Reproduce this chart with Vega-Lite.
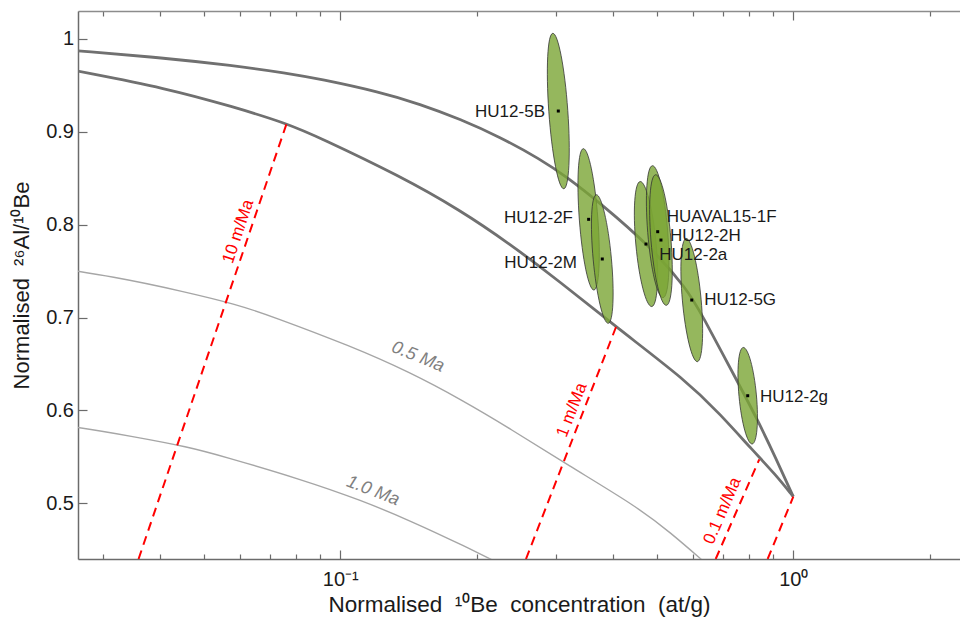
{
  "$schema": "https://vega.github.io/schema/vega-lite/v6.json",
  "width": 882,
  "height": 548,
  "autosize": {"type": "none"},
  "padding": {"left": 78, "top": 11, "right": 0, "bottom": 58},
  "config": {"view": {"stroke": null}, "font": "Liberation Sans"},
  "datasets": {
    "curves": [
      {"series": "constant exposure", "kind": "model", "x": 0.02627, "y": 0.98719},
      {"series": "constant exposure", "kind": "model", "x": 0.03999, "y": 0.97987},
      {"series": "constant exposure", "kind": "model", "x": 0.05797, "y": 0.97126},
      {"series": "constant exposure", "kind": "model", "x": 0.07627, "y": 0.96319},
      {"series": "constant exposure", "kind": "model", "x": 0.0902, "y": 0.95673},
      {"series": "constant exposure", "kind": "model", "x": 0.12237, "y": 0.94274},
      {"series": "constant exposure", "kind": "model", "x": 0.14995, "y": 0.92982},
      {"series": "constant exposure", "kind": "model", "x": 0.18376, "y": 0.91367},
      {"series": "constant exposure", "kind": "model", "x": 0.22522, "y": 0.8943},
      {"series": "constant exposure", "kind": "model", "x": 0.27601, "y": 0.87061},
      {"series": "constant exposure", "kind": "model", "x": 0.31654, "y": 0.85124},
      {"series": "constant exposure", "kind": "model", "x": 0.37443, "y": 0.82325},
      {"series": "constant exposure", "kind": "model", "x": 0.48274, "y": 0.77697},
      {"series": "constant exposure", "kind": "model", "x": 0.58263, "y": 0.73068},
      {"series": "constant exposure", "kind": "model", "x": 0.62748, "y": 0.70377},
      {"series": "constant exposure", "kind": "model", "x": 0.75618, "y": 0.62917},
      {"series": "constant exposure", "kind": "model", "x": 0.83002, "y": 0.59182},
      {"series": "constant exposure", "kind": "model", "x": 0.91914, "y": 0.54661},
      {"series": "constant exposure", "kind": "model", "x": 1.0, "y": 0.5071},
      {"series": "steady erosion", "kind": "model", "x": 0.02627, "y": 0.96534},
      {"series": "steady erosion", "kind": "model", "x": 0.04139, "y": 0.94672},
      {"series": "steady erosion", "kind": "model", "x": 0.05797, "y": 0.92691},
      {"series": "steady erosion", "kind": "model", "x": 0.07616, "y": 0.90904},
      {"series": "steady erosion", "kind": "model", "x": 0.0902, "y": 0.89354},
      {"series": "steady erosion", "kind": "model", "x": 0.13545, "y": 0.85231},
      {"series": "steady erosion", "kind": "model", "x": 0.18376, "y": 0.81572},
      {"series": "steady erosion", "kind": "model", "x": 0.23696, "y": 0.77912},
      {"series": "steady erosion", "kind": "model", "x": 0.30548, "y": 0.73853},
      {"series": "steady erosion", "kind": "model", "x": 0.40614, "y": 0.68978},
      {"series": "steady erosion", "kind": "model", "x": 0.58174, "y": 0.63165},
      {"series": "steady erosion", "kind": "model", "x": 0.68892, "y": 0.59612},
      {"series": "steady erosion", "kind": "model", "x": 0.8161, "y": 0.5563},
      {"series": "steady erosion", "kind": "model", "x": 0.91112, "y": 0.53154},
      {"series": "steady erosion", "kind": "model", "x": 1.0, "y": 0.5071},
      {"series": "0.5 Ma", "kind": "burial", "x": 0.02046, "y": 0.7581},
      {"series": "0.5 Ma", "kind": "burial", "x": 0.03223, "y": 0.7435},
      {"series": "0.5 Ma", "kind": "burial", "x": 0.04515, "y": 0.7279},
      {"series": "0.5 Ma", "kind": "burial", "x": 0.05931, "y": 0.7139},
      {"series": "0.5 Ma", "kind": "burial", "x": 0.07025, "y": 0.7017},
      {"series": "0.5 Ma", "kind": "burial", "x": 0.10549, "y": 0.6693},
      {"series": "0.5 Ma", "kind": "burial", "x": 0.14311, "y": 0.6406},
      {"series": "0.5 Ma", "kind": "burial", "x": 0.18454, "y": 0.6118},
      {"series": "0.5 Ma", "kind": "burial", "x": 0.23791, "y": 0.58},
      {"series": "0.5 Ma", "kind": "burial", "x": 0.3163, "y": 0.5417},
      {"series": "0.5 Ma", "kind": "burial", "x": 0.45306, "y": 0.496},
      {"series": "0.5 Ma", "kind": "burial", "x": 0.53653, "y": 0.4681},
      {"series": "0.5 Ma", "kind": "burial", "x": 0.63557, "y": 0.4369},
      {"series": "1.0 Ma", "kind": "burial", "x": 0.01594, "y": 0.5953},
      {"series": "1.0 Ma", "kind": "burial", "x": 0.02512, "y": 0.5838},
      {"series": "1.0 Ma", "kind": "burial", "x": 0.03518, "y": 0.5716},
      {"series": "1.0 Ma", "kind": "burial", "x": 0.04621, "y": 0.5606},
      {"series": "1.0 Ma", "kind": "burial", "x": 0.05473, "y": 0.551},
      {"series": "1.0 Ma", "kind": "burial", "x": 0.08219, "y": 0.5256},
      {"series": "1.0 Ma", "kind": "burial", "x": 0.11151, "y": 0.5031},
      {"series": "1.0 Ma", "kind": "burial", "x": 0.14379, "y": 0.4805},
      {"series": "1.0 Ma", "kind": "burial", "x": 0.18537, "y": 0.4554},
      {"series": "1.0 Ma", "kind": "burial", "x": 0.24645, "y": 0.4254},
      {"series": "10 m/Ma", "kind": "erosion", "x": 0.07616, "y": 0.90904},
      {"series": "10 m/Ma", "kind": "erosion", "x": 0.03587, "y": 0.44},
      {"series": "1 m/Ma", "kind": "erosion", "x": 0.40614, "y": 0.68978},
      {"series": "1 m/Ma", "kind": "erosion", "x": 0.257, "y": 0.44},
      {"series": "0.1 m/Ma", "kind": "erosion", "x": 0.8413, "y": 0.54736},
      {"series": "0.1 m/Ma", "kind": "erosion", "x": 0.6741, "y": 0.44},
      {"series": "saturation", "kind": "erosion", "x": 1.0, "y": 0.5071},
      {"series": "saturation", "kind": "erosion", "x": 0.8779, "y": 0.44}
    ],
    "samples": [
      {"sample": "HU12-5B", "x": 0.30289, "y": 0.9223, "lx": 0.28305, "ly": 0.92121},
      {"sample": "HU12-2F", "x": 0.35336, "y": 0.8057, "lx": 0.32634, "ly": 0.80711},
      {"sample": "HU12-2M", "x": 0.37877, "y": 0.763, "lx": 0.33305, "ly": 0.75867},
      {"sample": "HU12-2a", "x": 0.47295, "y": 0.7791, "lx": 0.50601, "ly": 0.76728},
      {"sample": "HUAVAL15-1F", "x": 0.50199, "y": 0.7924, "lx": 0.52543, "ly": 0.80818},
      {"sample": "HU12-2H", "x": 0.51038, "y": 0.7834, "lx": 0.53432, "ly": 0.78773},
      {"sample": "HU12-5G", "x": 0.59688, "y": 0.7188, "lx": 0.63607, "ly": 0.71884},
      {"sample": "HU12-2g", "x": 0.79324, "y": 0.6158, "lx": 0.84439, "ly": 0.61475}
    ]
  },
  "encoding": {
    "x": {"field": "x", "type": "quantitative", "scale": {"type": "log", "domain": [0.026366, 2.3335], "nice": false}, "axis": null},
    "y": {"field": "y", "type": "quantitative", "scale": {"domain": [0.44, 1.03], "nice": false, "zero": false}, "axis": null}
  },
  "layer": [
    {
      "data": {"name": "curves"},
      "transform": [{"filter": "datum.kind == 'burial'"}],
      "mark": {"type": "line", "color": "#a6a6a6", "strokeWidth": 1.4, "clip": true, "interpolate": "basis"},
      "encoding": {
        "detail": {"field": "series"},
        "x": {"field": "x", "type": "quantitative", "scale": {"type": "log", "domain": [0.026366, 2.3335], "nice": false},
          "axis": {"orient": "bottom", "values": [0.03, 0.04, 0.05, 0.06, 0.07, 0.08, 0.09, 0.1, 0.2, 0.3, 0.4, 0.5, 0.6, 0.7, 0.8, 0.9, 1, 2],
            "labelExpr": "datum.value == 0.1 ? '10⁻¹' : (datum.value == 1 ? '10⁰' : '')",
            "tickSize": {"condition": {"test": "datum.value == 0.1 || datum.value == 1", "value": -9}, "value": -5},
            "labelPadding": 19, "labelFontSize": 20, "labelFont": "Liberation Sans", "labelColor": "#1a1a1a",
            "labelFlush": false, "labelOverlap": false, "labelBound": false,
            "domainColor": "#6b6b6b", "domainWidth": 1.5, "tickColor": "#6b6b6b", "tickWidth": 1.2, "grid": false,
            "title": "Normalised\u00a0 ¹⁰Be\u00a0 concentration\u00a0 (at/g)", "titleFontSize": 22.5, "titleFontWeight": "normal",
            "titleFont": "Liberation Sans", "titleColor": "#1a1a1a", "titlePadding": 0}},
        "y": {"field": "y", "type": "quantitative", "scale": {"domain": [0.44, 1.03], "nice": false, "zero": false},
          "axis": {"orient": "left", "values": [0.5, 0.6, 0.7, 0.8, 0.9, 1], "format": ".1~f",
            "tickSize": -9, "labelPadding": 13.5, "labelFontSize": 20, "labelFont": "Liberation Sans", "labelColor": "#1a1a1a",
            "labelFlush": false, "labelOverlap": false,
            "domainColor": "#6b6b6b", "domainWidth": 1.5, "tickColor": "#6b6b6b", "tickWidth": 1.2, "grid": false,
            "title": "Normalised\u00a0 ²⁶Al/¹⁰Be", "titleFontSize": 22, "titleFontWeight": "normal",
            "titleFont": "Liberation Sans", "titleColor": "#1a1a1a", "titlePadding": 12}}
      }
    },
    {
      "data": {"name": "curves"},
      "transform": [{"filter": "datum.kind == 'model'"}],
      "mark": {"type": "line", "color": "#707070", "strokeWidth": 2.8, "clip": true, "interpolate": "basis"},
      "encoding": {
        "detail": {"field": "series"},
        "x": {"field": "x", "type": "quantitative", "scale": {"type": "log", "domain": [0.026366, 2.3335], "nice": false},
          "axis": {"orient": "top", "values": [0.03, 0.04, 0.05, 0.06, 0.07, 0.08, 0.09, 0.1, 0.2, 0.3, 0.4, 0.5, 0.6, 0.7, 0.8, 0.9, 1, 2],
            "labels": false, "title": null,
            "tickSize": {"condition": {"test": "datum.value == 0.1 || datum.value == 1", "value": -9}, "value": -5},
            "domainColor": "#8c8c8c", "domainWidth": 1.5, "tickColor": "#6b6b6b", "tickWidth": 1.2, "grid": false}}
      }
    },
    {
      "data": {"name": "curves"},
      "transform": [{"filter": "datum.kind == 'erosion'"}],
      "mark": {"type": "line", "color": "#ff0000", "strokeWidth": 2, "strokeDash": [9, 6], "clip": true},
      "encoding": {"detail": {"field": "series"}}
    },
    {
      "data": {"name": "samples"},
      "mark": {"type": "point", "filled": true, "size": 4, "fill": "#7aa535", "fillOpacity": 0.8, "stroke": "#333333", "strokeWidth": 0.8, "strokeOpacity": 1, "opacity": 1},
      "encoding": {
        "shape": {"field": "sample", "type": "nominal", "legend": null,
          "scale": {"domain": ["HU12-5B", "HU12-2F", "HU12-2M", "HU12-2a", "HUAVAL15-1F", "HU12-2H", "HU12-5G", "HU12-2g"],
            "range": [
              "M -5.5 -77.71 A 9.5 77.9 -4.05 0 1 5.5 77.71 A 9.5 77.9 -4.05 0 1 -5.5 -77.71 Z",
              "M -5.32 -70.7 A 9.3 70.9 -4.3 0 1 5.32 70.7 A 9.3 70.9 -4.3 0 1 -5.32 -70.7 Z",
              "M -5.97 -64.32 A 9.2 64.6 -5.3 0 1 5.97 64.32 A 9.2 64.6 -5.3 0 1 -5.97 -64.32 Z",
              "M -5.8 -62.53 A 10.2 62.8 -5.3 0 1 5.8 62.53 A 10.2 62.8 -5.3 0 1 -5.8 -62.53 Z",
              "M -5.31 -65.99 A 10 66.2 -4.6 0 1 5.31 65.99 A 10 66.2 -4.6 0 1 -5.31 -65.99 Z",
              "M -5.37 -65.28 A 10 65.5 -4.7 0 1 5.37 65.28 A 10 65.5 -4.7 0 1 -5.37 -65.28 Z",
              "M -5.61 -61.64 A 9.5 61.9 -5.2 0 1 5.61 61.64 A 9.5 61.9 -5.2 0 1 -5.61 -61.64 Z",
              "M -4.48 -48.29 A 8.8 48.5 -5.3 0 1 4.48 48.29 A 8.8 48.5 -5.3 0 1 -4.48 -48.29 Z"
            ]}}
      }
    },
    {
      "data": {"name": "samples"},
      "mark": {"type": "square", "size": 9, "color": "#000000", "opacity": 1},
      "encoding": {}
    },
    {
      "data": {"name": "samples"},
      "transform": [{"filter": {"field": "sample", "oneOf": ["HU12-5B", "HU12-2F", "HU12-2M"]}}],
      "mark": {"type": "text", "align": "right", "baseline": "middle", "fontSize": 17, "font": "Liberation Sans", "color": "#1a1a1a"},
      "encoding": {
        "text": {"field": "sample"},
        "x": {"field": "lx", "type": "quantitative", "scale": {"type": "log", "domain": [0.026366, 2.3335], "nice": false}, "axis": null},
        "y": {"field": "ly", "type": "quantitative", "scale": {"domain": [0.44, 1.03], "nice": false, "zero": false}, "axis": null}
      }
    },
    {
      "data": {"name": "samples"},
      "transform": [{"filter": {"not": {"field": "sample", "oneOf": ["HU12-5B", "HU12-2F", "HU12-2M"]}}}],
      "mark": {"type": "text", "align": "left", "baseline": "middle", "fontSize": 17, "font": "Liberation Sans", "color": "#1a1a1a"},
      "encoding": {
        "text": {"field": "sample"},
        "x": {"field": "lx", "type": "quantitative", "scale": {"type": "log", "domain": [0.026366, 2.3335], "nice": false}, "axis": null},
        "y": {"field": "ly", "type": "quantitative", "scale": {"domain": [0.44, 1.03], "nice": false, "zero": false}, "axis": null}
      }
    },
    {
      "data": {"values": [{"x": 0.062777, "y": 0.78881, "label": "10 m/Ma"}]},
      "mark": {"type": "text", "angle": -71.4, "align": "center", "baseline": "alphabetic", "dy": -6, "fontSize": 17, "font": "Liberation Sans", "color": "#ff0000"},
      "encoding": {"text": {"field": "label"}}
    },
    {
      "data": {"values": [{"x": 0.34198, "y": 0.59612, "label": "1 m/Ma"}]},
      "mark": {"type": "text", "angle": -68.8, "align": "center", "baseline": "alphabetic", "dy": -6, "fontSize": 17, "font": "Liberation Sans", "color": "#ff0000"},
      "encoding": {"text": {"field": "label"}}
    },
    {
      "data": {"values": [{"x": 0.6978, "y": 0.49193, "label": "0.1 m/Ma"}]},
      "mark": {"type": "text", "angle": -66.7, "align": "center", "baseline": "middle", "fontSize": 17, "font": "Liberation Sans", "color": "#ff0000"},
      "encoding": {"text": {"field": "label"}}
    },
    {
      "data": {"values": [{"x": 0.14843, "y": 0.65748, "label": "0.5 Ma"}]},
      "mark": {"type": "text", "angle": 22, "align": "center", "baseline": "middle", "fontSize": 18, "fontStyle": "italic", "font": "Liberation Sans", "color": "#808080"},
      "encoding": {"text": {"field": "label"}}
    },
    {
      "data": {"values": [{"x": 0.11809, "y": 0.51324, "label": "1.0 Ma"}]},
      "mark": {"type": "text", "angle": 21, "align": "center", "baseline": "middle", "fontSize": 18, "fontStyle": "italic", "font": "Liberation Sans", "color": "#808080"},
      "encoding": {"text": {"field": "label"}}
    }
  ],
  "resolve": {"axis": {"x": "independent", "y": "independent"}}
}
